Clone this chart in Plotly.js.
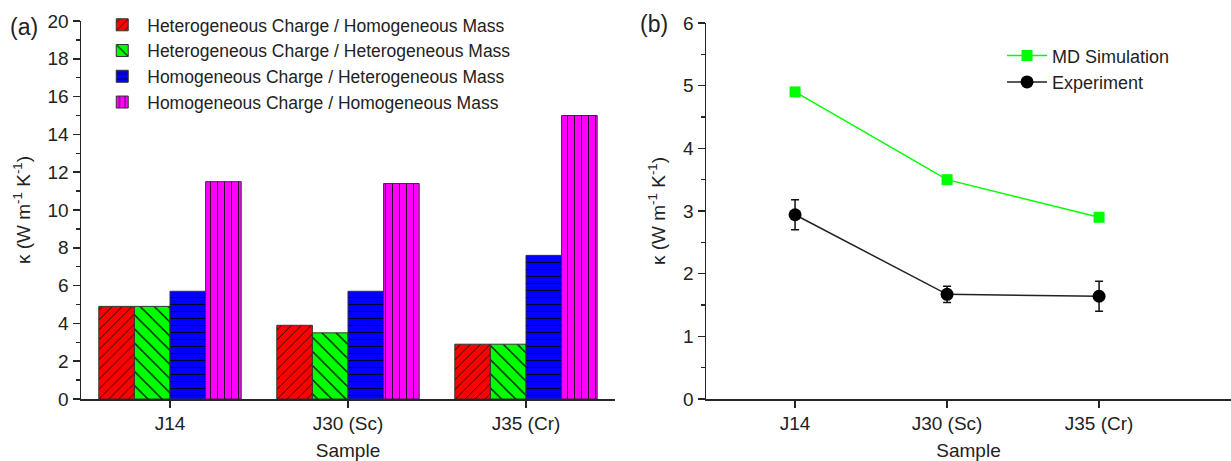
<!DOCTYPE html>
<html><head><meta charset="utf-8">
<script src="https://cdn.plot.ly/plotly-3.0.1.min.js"></script>
<style>html,body{margin:0;padding:0;background:#fff}#chart{width:1231px;height:461px}</style>
</head><body><div id="chart"></div>
<script>
const samples = ["J14", "J30 (Sc)", "J35 (Cr)"];
const hetChargeHomMass = [4.9, 3.9, 2.9];
const hetChargeHetMass = [4.9, 3.5, 2.9];
const homChargeHetMass = [5.7, 5.7, 7.6];
const homChargeHomMass = [11.5, 11.4, 15.0];
const mdSimulation = [4.9, 3.5, 2.9];
const experiment = [2.94, 1.67, 1.64];
const experimentErr = [0.24, 0.13, 0.24];
const barNames = ["Heterogeneous Charge / Homogeneous Mass", "Heterogeneous Charge / Heterogeneous Mass",
  "Homogeneous Charge / Heterogeneous Mass", "Homogeneous Charge / Homogeneous Mass"];

const FONT = "Liberation Sans, Arial, sans-serif";
const FS = 19;
const AX = "#262626";
function bar(name, vals, color, shape, size) {
  return {type: "bar", name: name, x: samples, y: vals, xaxis: "x", yaxis: "y", legend: "legend",
    marker: {color: color, line: {color: "#333", width: 1},
      pattern: {shape: shape, fgcolor: "#000", bgcolor: color, size: size, solidity: 0.12, fillmode: "replace"}}};
}
const traces = [
  bar(barNames[0], hetChargeHomMass, "#ff0000", "/", 7),
  bar(barNames[1], hetChargeHetMass, "#00ff00", "\\", 10),
  bar(barNames[2], homChargeHetMass, "#0000ff", "-", 7),
  bar(barNames[3], homChargeHomMass, "#ff00ff", "|", 7),
  {type: "scatter", mode: "lines+markers", name: "MD Simulation", x: samples, y: mdSimulation,
   xaxis: "x2", yaxis: "y2", legend: "legend2",
   line: {color: "#00ff00", width: 1.5}, marker: {symbol: "square", size: 11, color: "#00ff00"}},
  {type: "scatter", mode: "lines+markers", name: "Experiment", x: samples, y: experiment,
   xaxis: "x2", yaxis: "y2", legend: "legend2",
   error_y: {type: "data", array: experimentErr, visible: true, color: "#111", thickness: 1.5, width: 4},
   line: {color: "#222", width: 1.5}, marker: {symbol: "circle", size: 13, color: "#000"}}
];
const ytitle = "κ (W m<sup>-1</sup> K<sup>-1</sup>)";
function xax(domain, range) {
  return {domain: domain, range: range, type: "category", showline: true, linecolor: AX, linewidth: 1.5,
    ticks: "outside", ticklen: 7, tickcolor: AX, tickwidth: 1.5, showgrid: false, zeroline: false,
    tickfont: {size: FS, family: FONT, color: "#222"},
    title: {text: "Sample", font: {size: FS, family: FONT, color: "#222"}, standoff: 16}};
}
function yax(domain, range, dtick, minor, anchor) {
  return {domain: domain, range: range, dtick: dtick, anchor: anchor, showline: true, linecolor: AX, linewidth: 1.5,
    ticks: "outside", ticklen: 7, tickcolor: AX, tickwidth: 1.5, showgrid: false, zeroline: false,
    minor: {dtick: minor, ticks: "outside", ticklen: 4, tickcolor: AX, tickwidth: 1.5, showgrid: false},
    tickfont: {size: FS, family: FONT, color: "#222"},
    title: {text: ytitle, font: {size: FS, family: FONT, color: "#222"}, standoff: 12}};
}
const layout = {
  width: 1231, height: 461, margin: {l: 0, r: 0, t: 0, b: 0},
  paper_bgcolor: "#fff", plot_bgcolor: "#fff",
  barmode: "group", bargap: 0.2, bargroupgap: 0,
  font: {family: FONT, color: "#222"},
  xaxis: Object.assign(xax([81/1231, 615/1231], [-0.5, 2.5]), {anchor: "y"}),
  yaxis: yax([62/461, 440/461], [0, 20], 2, 1, "x"),
  xaxis2: Object.assign(xax([706/1231, 1], [-0.586, 2.868]), {anchor: "y2"}),
  yaxis2: yax([62/461, 438/461], [0, 6], 1, 0.5, "x2"),
  legend: {x: 0.079, y: 0.985, xanchor: "left", yanchor: "top", bgcolor: "rgba(0,0,0,0)",
    font: {size: 17.5, family: FONT, color: "#222"}, tracegroupgap: 0, itemwidth: 40, traceorder: "normal"},
  legend2: {x: 0.814, y: 0.919, xanchor: "left", yanchor: "top", bgcolor: "rgba(0,0,0,0)",
    font: {size: 18, family: FONT, color: "#222"}, itemwidth: 40},
  showlegend: true,
  annotations: [
    {text: "(a)", xref: "paper", yref: "paper", x: 8/1231, y: 1 - 12/461, xanchor: "left", yanchor: "top",
     showarrow: false, font: {size: 23, family: FONT, color: "#222"}},
    {text: "(b)", xref: "paper", yref: "paper", x: 638/1231, y: 1 - 9/461, xanchor: "left", yanchor: "top",
     showarrow: false, font: {size: 23, family: FONT, color: "#222"}}
  ]
};
Plotly.newPlot("chart", traces, layout, {displayModeBar: false, staticPlot: true});
</script></body></html>
